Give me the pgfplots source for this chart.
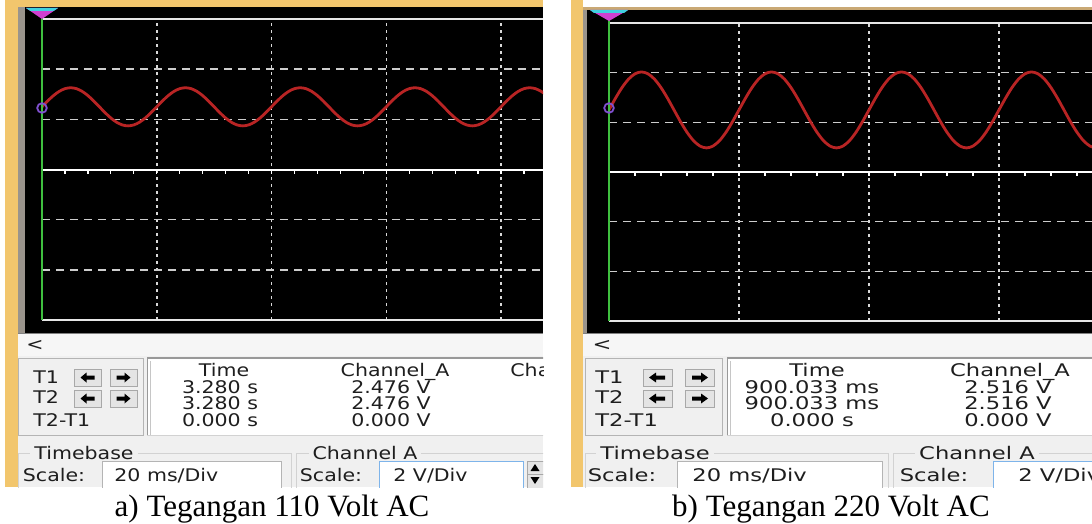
\documentclass[border=0pt]{standalone}
\usepackage{fontspec}
\setmainfont{Liberation Serif}
\newfontfamily\uifont{DejaVu Sans}
\usepackage{graphicx}
\usepackage{pgfplots}
\pgfplotsset{compat=1.18}
\usepackage{pgfplotstable}

\definecolor{orng}{HTML}{F2C66D}
\definecolor{tanline}{HTML}{C9A874}
\definecolor{panel}{HTML}{F0F0F0}
\definecolor{barbg}{HTML}{F6F6F6}
\definecolor{strip}{HTML}{9A948C}
\definecolor{trace}{HTML}{B82424}
\definecolor{gridc}{HTML}{CDCDCD}
\definecolor{vgrid}{HTML}{D8D8D8}
\definecolor{framec}{HTML}{E6E6E6}
\definecolor{grn}{HTML}{3FBF3F}
\definecolor{uitxt}{HTML}{1E1E1E}
\definecolor{boxline}{HTML}{B4B4B4}
\definecolor{bluebox}{HTML}{7EB4EA}
\definecolor{mag}{HTML}{D040D0}
\definecolor{cyn}{HTML}{40D0E0}
\definecolor{purp}{HTML}{8050D0}
\definecolor{grp}{HTML}{D2D2D2}
\definecolor{btnbg}{HTML}{E4E4E4}
\definecolor{btnln}{HTML}{A8A8A8}

\newcommand\uitext{\uifont\fontsize{8.7}{10}\selectfont}
\newcommand\LS[1]{\scalebox{1.18}[1]{\uitext #1}}
\newcommand\RS[1]{\scalebox{1.30}[1]{\uitext #1}}

% Channel A, 110 V panel (t in ms, v in V on the graticule)
\pgfplotstableread[row sep=\\]{
t v\\
0 2.500\\ 1 2.735\\ 2 2.947\\ 3 3.115\\ 4 3.223\\ 5 3.260\\ 6 3.223\\ 7 3.115\\ 8 2.947\\ 9 2.735\\
10 2.500\\ 11 2.265\\ 12 2.053\\ 13 1.885\\ 14 1.777\\ 15 1.740\\ 16 1.777\\ 17 1.885\\ 18 2.053\\ 19 2.265\\
20 2.500\\ 21 2.735\\ 22 2.947\\ 23 3.115\\ 24 3.223\\ 25 3.260\\ 26 3.223\\ 27 3.115\\ 28 2.947\\ 29 2.735\\
30 2.500\\ 31 2.265\\ 32 2.053\\ 33 1.885\\ 34 1.777\\ 35 1.740\\ 36 1.777\\ 37 1.885\\ 38 2.053\\ 39 2.265\\
40 2.500\\ 41 2.735\\ 42 2.947\\ 43 3.115\\ 44 3.223\\ 45 3.260\\ 46 3.223\\ 47 3.115\\ 48 2.947\\ 49 2.735\\
50 2.500\\ 51 2.265\\ 52 2.053\\ 53 1.885\\ 54 1.777\\ 55 1.740\\ 56 1.777\\ 57 1.885\\ 58 2.053\\ 59 2.265\\
60 2.500\\ 61 2.735\\ 62 2.947\\ 63 3.115\\ 64 3.223\\ 65 3.260\\ 66 3.223\\ 67 3.115\\ 68 2.947\\ 69 2.735\\
70 2.500\\ 71 2.265\\ 72 2.053\\ 73 1.885\\ 74 1.777\\ 75 1.740\\ 76 1.777\\ 77 1.885\\ 78 2.053\\ 79 2.265\\
80 2.500\\ 81 2.735\\ 82 2.947\\ 83 3.115\\ 84 3.223\\ 85 3.260\\ 86 3.223\\ 87 3.115\\ 88 2.947\\
}\sigL

% Channel A, 220 V panel
\pgfplotstableread[row sep=\\]{
t v\\
0 2.500\\ 1 2.973\\ 2 3.399\\ 3 3.738\\ 4 3.955\\ 5 4.030\\ 6 3.955\\ 7 3.738\\ 8 3.399\\ 9 2.973\\
10 2.500\\ 11 2.027\\ 12 1.601\\ 13 1.262\\ 14 1.045\\ 15 0.970\\ 16 1.045\\ 17 1.262\\ 18 1.601\\ 19 2.027\\
20 2.500\\ 21 2.973\\ 22 3.399\\ 23 3.738\\ 24 3.955\\ 25 4.030\\ 26 3.955\\ 27 3.738\\ 28 3.399\\ 29 2.973\\
30 2.500\\ 31 2.027\\ 32 1.601\\ 33 1.262\\ 34 1.045\\ 35 0.970\\ 36 1.045\\ 37 1.262\\ 38 1.601\\ 39 2.027\\
40 2.500\\ 41 2.973\\ 42 3.399\\ 43 3.738\\ 44 3.955\\ 45 4.030\\ 46 3.955\\ 47 3.738\\ 48 3.399\\ 49 2.973\\
50 2.500\\ 51 2.027\\ 52 1.601\\ 53 1.262\\ 54 1.045\\ 55 0.970\\ 56 1.045\\ 57 1.262\\ 58 1.601\\ 59 2.027\\
60 2.500\\ 61 2.973\\ 62 3.399\\ 63 3.738\\ 64 3.955\\ 65 4.030\\ 66 3.955\\ 67 3.738\\ 68 3.399\\ 69 2.973\\
70 2.500\\ 71 2.027\\ 72 1.601\\ 73 1.262\\ 74 1.045\\ 75 0.970\\
}\sigR

\pgfplotsset{scopeaxis/.style={
  scale only axis, anchor=south west,
  ymin=-6, ymax=6, xmin=0,
  axis line style={draw=none},
  ytick={-4,-2,2,4},
  xticklabels={}, yticklabels={},
  major tick length=0pt,
  xmajorgrids, ymajorgrids,
  x grid style={vgrid, line width=0.75pt, dash pattern=on 1.5pt off 2pt},
  y grid style={gridc, line width=0.75pt, dash pattern=on 4pt off 3pt},
}}

\begin{document}
\begin{tikzpicture}[x=0.5pt,y=-0.5pt]
\useasboundingbox (0,0) rectangle (1092,524);
\fill[white] (0,0) rectangle (1092,524);
% ---------------- backgrounds, left
\fill[orng] (5,0) rectangle (543,7);
\fill[orng] (5,0) rectangle (18,487);
\fill[strip] (18,7) rectangle (25,333);
\fill[black] (25,7) rectangle (543,333);
\fill[panel] (18,333) rectangle (543,487);
% ---------------- backgrounds, right
\fill[tanline] (571,7) rectangle (1092,10);
\fill[orng] (571,0) rectangle (583,487);
\fill[strip] (583,10) rectangle (587,333);
\fill[black] (587,10) rectangle (1092,333);
\fill[panel] (583,333) rectangle (1092,487);

\coordinate (LA) at (42,320);
\coordinate (RA) at (609,321);

\begin{axis}[scopeaxis, at={(LA)}, width=250.5pt, height=150.5pt,
  xmax=87.32, xtick={20,40,60,80}]
  \addplot[white, line width=1pt] coordinates {(0,0) (87.32,0)};
  \addplot[trace, line width=1.4pt, smooth] table[x=t, y=v] {\sigL};
\end{axis}

\begin{axis}[scopeaxis, at={(RA)}, width=241.5pt, height=149pt,
  xmax=74.31, xtick={20,40,60}]
  \addplot[white, line width=1pt] coordinates {(0,0) (74.31,0)};
  \addplot[trace, line width=1.4pt, smooth] table[x=t, y=v] {\sigR};
\end{axis}

% ---------------- screen overlays, left
\draw[framec, line width=1pt] (42,19) -- (543,19);
\draw[framec, line width=1pt] (42,320) -- (543,320);
\foreach \k in {1,...,21} \draw[white, line width=0.6pt] ({42+22.95*\k},170) -- ++(0,3.5);
\draw[grn, line width=1pt] (42,10) -- (42,320);
\fill[mag] (26,8) -- (58,8) -- (42,19) -- cycle;
\fill[cyn] (26,8) -- (58,8) -- (53.6,11) -- (30.4,11) -- cycle;
\draw[purp, line width=0.9pt] (42,108) circle[radius=2.4pt];
% ---------------- screen overlays, right
\draw[framec, line width=1pt] (609,23) -- (1092,23);
\draw[framec, line width=1pt] (609,321) -- (1092,321);
\foreach \k in {1,...,18} \draw[white, line width=0.6pt] ({609+26*\k},172) -- ++(0,3.5);
\draw[grn, line width=1pt] (609,12) -- (609,321);
\fill[mag] (590,10) -- (628,10) -- (609,21) -- cycle;
\fill[cyn] (590,10) -- (628,10) -- (624,13) -- (594,13) -- cycle;
\draw[purp, line width=0.9pt] (609,108) circle[radius=2.4pt];

% ---------------- UI, left panel
\begin{scope}
\clip (0,0) rectangle (543,487);
\fill[barbg] (18,334) rectangle (543,356);
\draw[gray, line width=0.6pt] (18,333.5) -- (543,333.5);
\node[anchor=base, inner sep=0, text=uitxt] at (35,350) {\LS{<}};
\draw[boxline, fill=panel] (18,358) rectangle (143,435);
\fill[white] (147,358) rectangle (560,435);
\draw[gray!80, line width=0.8pt] (147.5,435) -- (147.5,358) -- (560,358);
\draw[gray!45] (150.5,435) -- (150.5,361);
\draw[gray!35] (147,435) -- (560,435);
\foreach \bx/\by in {74/369, 110/369, 74/390, 110/390}
  \draw[fill=btnbg, draw=btnln] (\bx,\by) rectangle ++(27,17);
\foreach \cy in {377.5, 398.5} {
  \fill[black] (80.5,\cy) -- (86.5,{\cy-5}) -- (86.5,{\cy-2}) -- (94.5,{\cy-2}) -- (94.5,{\cy+2}) -- (86.5,{\cy+2}) -- (86.5,{\cy+5}) -- cycle;
  \fill[black] (130.5,\cy) -- (124.5,{\cy-5}) -- (124.5,{\cy-2}) -- (116.5,{\cy-2}) -- (116.5,{\cy+2}) -- (124.5,{\cy+2}) -- (124.5,{\cy+5}) -- cycle;
}
\begin{scope}[every node/.style={inner sep=0, text=uitxt}]
\node[anchor=base west] at (33,383) {\LS{T1}};
\node[anchor=base west] at (33,403) {\LS{T2}};
\node[anchor=base west] at (33,426) {\LS{T2-T1}};
\node[anchor=base] at (224,376) {\LS{Time}};
\node[anchor=base] at (220,393) {\LS{3.280 s}};
\node[anchor=base] at (220,409) {\LS{3.280 s}};
\node[anchor=base] at (220,426) {\LS{0.000 s}};
\node[anchor=base] at (395,376) {\LS{Channel\_A}};
\node[anchor=base] at (391,393) {\LS{2.476 V}};
\node[anchor=base] at (391,409) {\LS{2.476 V}};
\node[anchor=base] at (391,426) {\LS{0.000 V}};
\node[anchor=base west] at (510,376) {\LS{Channel\_B}};
\end{scope}
\draw[grp] (18,453) rectangle (291,500);
\draw[grp] (296,453) rectangle (600,500);
\begin{scope}[every node/.style={inner sep=0, text=uitxt}]
\node[anchor=base, fill=panel, inner xsep=2pt] at (84,459) {\LS{Timebase}};
\node[anchor=base, fill=panel, inner xsep=2pt] at (365,459) {\LS{Channel A}};
\node[anchor=base] at (54,481) {\LS{Scale:}};
\node[anchor=base] at (331,481) {\LS{Scale:}};
\end{scope}
\draw[boxline, fill=white] (102,461) rectangle (281,495);
\draw[bluebox, fill=white] (379,461) rectangle (523,495);
\node[anchor=base west, inner sep=0, text=uitxt] at (114,481) {\LS{20 ms/Div}};
\node[anchor=base west, inner sep=0, text=uitxt] at (393,481) {\LS{2\ V/Div}};
\draw[btnln, fill=btnbg] (527,461) rectangle (546,474);
\draw[btnln, fill=btnbg] (527,474) rectangle (546,495);
\fill[black] (535,464) -- (530.5,471) -- (539.5,471) -- cycle;
\fill[black] (530.5,477) -- (539.5,477) -- (535,484) -- cycle;
\end{scope}

% ---------------- UI, right panel
\begin{scope}
\clip (571,0) rectangle (1092,487);
\fill[barbg] (583,334) rectangle (1092,356);
\draw[gray, line width=0.6pt] (583,333.5) -- (1092,333.5);
\node[anchor=base, inner sep=0, text=uitxt] at (602,350) {\RS{<}};
\draw[boxline, fill=panel] (585,358) rectangle (722,435);
\fill[white] (727,358) rectangle (1100,435);
\draw[gray!80, line width=0.8pt] (727.5,435) -- (727.5,358) -- (1100,358);
\draw[gray!45] (730.5,435) -- (730.5,361);
\draw[gray!35] (727,435) -- (1100,435);
\foreach \bx/\by in {643/369, 685/369, 643/390, 685/390}
  \draw[fill=btnbg, draw=btnln] (\bx,\by) rectangle ++(29,17);
\foreach \cy in {377.5, 398.5} {
  \fill[black] (649,\cy) -- (656,{\cy-5}) -- (656,{\cy-2}) -- (665,{\cy-2}) -- (665,{\cy+2}) -- (656,{\cy+2}) -- (656,{\cy+5}) -- cycle;
  \fill[black] (708,\cy) -- (701,{\cy-5}) -- (701,{\cy-2}) -- (692,{\cy-2}) -- (692,{\cy+2}) -- (701,{\cy+2}) -- (701,{\cy+5}) -- cycle;
}
\begin{scope}[every node/.style={inner sep=0, text=uitxt}]
\node[anchor=base west] at (595,383) {\RS{T1}};
\node[anchor=base west] at (595,403) {\RS{T2}};
\node[anchor=base west] at (595,426) {\RS{T2-T1}};
\node[anchor=base] at (817,376) {\RS{Time}};
\node[anchor=base] at (812,393) {\RS{900.033 ms}};
\node[anchor=base] at (812,409) {\RS{900.033 ms}};
\node[anchor=base] at (812,426) {\RS{0.000 s}};
\node[anchor=base] at (1010,376) {\RS{Channel\_A}};
\node[anchor=base] at (1008,393) {\RS{2.516 V}};
\node[anchor=base] at (1008,409) {\RS{2.516 V}};
\node[anchor=base] at (1008,426) {\RS{0.000 V}};
\end{scope}
\draw[grp] (585,453) rectangle (888,500);
\draw[grp] (893,453) rectangle (1100,500);
\begin{scope}[every node/.style={inner sep=0, text=uitxt}]
\node[anchor=base, fill=panel, inner xsep=2pt] at (655,459) {\RS{Timebase}};
\node[anchor=base, fill=panel, inner xsep=2pt] at (977,459) {\RS{Channel A}};
\node[anchor=base] at (622,481) {\RS{Scale:}};
\node[anchor=base] at (934,481) {\RS{Scale:}};
\end{scope}
\draw[boxline, fill=white] (677,461) rectangle (882,495);
\draw[bluebox, fill=white] (993,461) rectangle (1100,495);
\node[anchor=base west, inner sep=0, text=uitxt] at (1018,481) {\RS{2\ V/Div}};
\node[anchor=base west, inner sep=0, text=uitxt] at (692,481) {\RS{20 ms/Div}};
\end{scope}

% ---------------- captions
\node[anchor=base, inner sep=0] at (272,516) {\fontsize{15.5}{18}\selectfont a) Tegangan 110 Volt AC};
\node[anchor=base, inner sep=0] at (831,516) {\fontsize{15.5}{18}\selectfont b) Tegangan 220 Volt AC};
\end{tikzpicture}
\end{document}
